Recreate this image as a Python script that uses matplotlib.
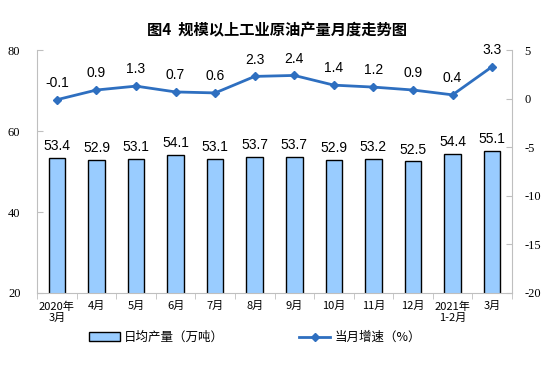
import matplotlib.pyplot as plt
import numpy as np

months = ["2020年\n3月", "4月", "5月", "6月", "7月", "8月", "9月", "10月", "11月", "12月", "2021年\n1-2月", "3月"]
daily_output = [53.4, 52.9, 53.1, 54.1, 53.1, 53.7, 53.7, 52.9, 53.2, 52.5, 54.4, 55.1]
growth = [-0.1, 0.9, 1.3, 0.7, 0.6, 2.3, 2.4, 1.4, 1.2, 0.9, 0.4, 3.3]

cjk = ['Noto Sans CJK SC', 'DejaVu Sans']
plt.rcParams['font.family'] = cjk
plt.rcParams['axes.unicode_minus'] = False

fig = plt.figure(figsize=(5.54, 3.69), dpi=100)
ax = fig.add_axes([0.067, 0.206, 0.857, 0.658])
ax2 = ax.twinx()

x = np.arange(len(months))
ax.bar(x, daily_output, width=0.42, color="#99ccff", edgecolor="black", linewidth=1.0,
       label="日均产量（万吨）", zorder=2)
for xi, v in zip(x, daily_output):
    ax.text(xi, v + 1.2, f"{v:.1f}", ha="center", va="bottom", fontsize=10,
            family="Liberation Sans")

ax2.plot(x, growth, color="#2e6fc0", linewidth=2, marker="D", markersize=4,
         label="当月增速（%）", zorder=3)
for xi, v in zip(x, growth):
    ax2.text(xi, v + 1.0, f"{v:.1f}", ha="center", va="bottom", fontsize=10,
             family="Liberation Sans")

ax.set_ylim(20, 80)
ax.set_yticks([20, 40, 60, 80])
ax2.set_ylim(-20, 5)
ax2.set_yticks([-20, -15, -10, -5, 0, 5])
ax.set_xlim(-0.5, len(months) - 0.5)
ax.set_xticks(x)
ax.set_xticklabels(months, fontsize=8)
ax.set_xticks(np.arange(-0.5, len(months)), minor=True)
ax.tick_params(axis="x", which="major", length=0, pad=6)
ax.tick_params(axis="x", which="minor", length=4, color="#bfbfbf", direction="out")

for a in (ax, ax2):
    for s in a.spines.values():
        s.set_visible(False)
ax.spines["left"].set_visible(True)
ax.spines["bottom"].set_visible(True)
ax2.spines["right"].set_visible(True)
for s in (ax.spines["left"], ax.spines["bottom"], ax2.spines["right"]):
    s.set_color("#bfbfbf")

ax.tick_params(axis="y", direction="in", length=4, color="#bfbfbf", pad=12,
               labelfontfamily="Liberation Serif", labelsize=9)
ax2.tick_params(axis="y", direction="in", length=4, color="#bfbfbf", pad=9,
                labelfontfamily="Liberation Serif", labelsize=9)

fig.suptitle("图4  规模以上工业原油产量月度走势图", fontsize=11, fontweight="bold",
             y=0.94, x=0.5)

h1, l1 = ax.get_legend_handles_labels()
h2, l2 = ax2.get_legend_handles_labels()
fig.legend(h1 + h2, l1 + l2, loc="center", bbox_to_anchor=(0.46, 0.085), ncol=2,
           frameon=False, fontsize=9, columnspacing=6, handlelength=2.5,
           handletextpad=0.3)

fig.savefig("out.png", dpi=100)
